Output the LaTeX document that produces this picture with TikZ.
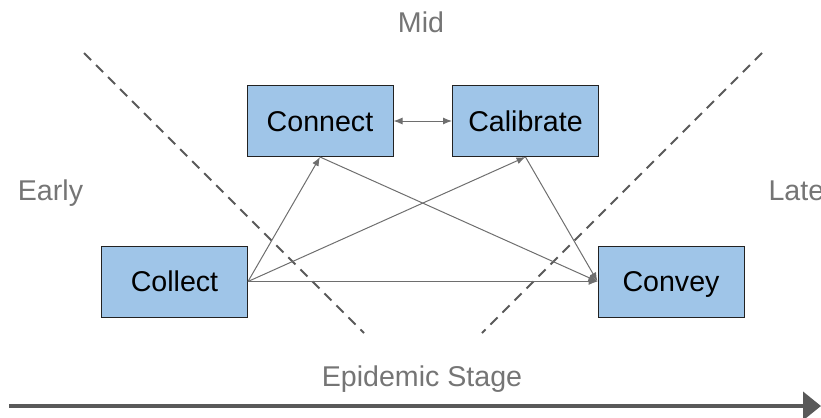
\documentclass[tikz,border=0pt]{standalone}
\usepackage{fontspec}
\setmainfont{Liberation Sans}
\usetikzlibrary{arrows.meta}
\definecolor{cbox}{HTML}{9FC5E8}
\definecolor{cedge}{HTML}{222222}
\definecolor{cline}{HTML}{6E6E6E}
\definecolor{cgrey}{HTML}{595959}
\definecolor{ctext}{HTML}{757575}
\tikzset{
  every picture/.style={line width=0.5pt},
  stage/.style={fill=cbox, draw=cedge, minimum width=73pt, minimum height=35.5pt, inner sep=0pt,
    text height=10.3pt, text depth=0pt, font=\fontsize{14.3}{17}\selectfont},
  phase/.style={text=ctext, inner sep=0pt, anchor=base, font=\fontsize{14.3}{17}\selectfont},
  link/.style={-{Latex[length=4.5pt,width=3.5pt]}, draw=cline, line width=0.5pt},
  border/.style={draw=cgrey, dashed, dash pattern=on 5pt off 3.5pt, line width=1pt},
  timeline/.style={-{Triangle[length=9pt,width=14pt]}, draw=cgrey, line width=2pt},
}

\begin{document}
\begin{tikzpicture}[x=0.5pt, y=-0.5pt]
  \useasboundingbox (0,0) rectangle (821,418);

  % ---- stage boundaries
  \coordinate (el) at (84,53);   \coordinate (eh) at (364,333);
  \coordinate (lh) at (762,53);  \coordinate (ll) at (482,333);
  \draw[border] (el) -- (eh);
  \draw[border] (lh) -- (ll);

  % ---- stage labels
  \node[phase] (mid)   at (421,32)  {Mid};
  \node[phase] (early) at (50.5,200) {Early};
  \node[phase, anchor=base west] (late) at (768,200) {Late};
  \node[phase] (epi)   at (422,386) {Epidemic Stage};

  % ---- activities
  \node[stage] (connect)   at (320,121)   {Connect};
  \node[stage] (calibrate) at (525.5,121) {Calibrate};
  \node[stage] (collect)   at (174.5,281.5) {Collect};
  \node[stage] (convey)    at (671,281.5) {Convey};

  % ---- links
  \draw[link, {Latex[length=4.5pt,width=3.5pt]}-{Latex[length=4.5pt,width=3.5pt]}] (connect.east) -- (calibrate.west);
  \foreach \t in {connect.south, calibrate.south, convey.west} \draw[link] (collect.east) -- (\t);
  \draw[link] (connect.south) -- (convey.west);
  \draw[link] (calibrate.south) -- (convey.west);

  % ---- time axis
  \coordinate (t0) at (9,406);  \coordinate (t1) at (821,406);
  \draw[timeline] (t0) -- (t1);
\end{tikzpicture}
\end{document}
